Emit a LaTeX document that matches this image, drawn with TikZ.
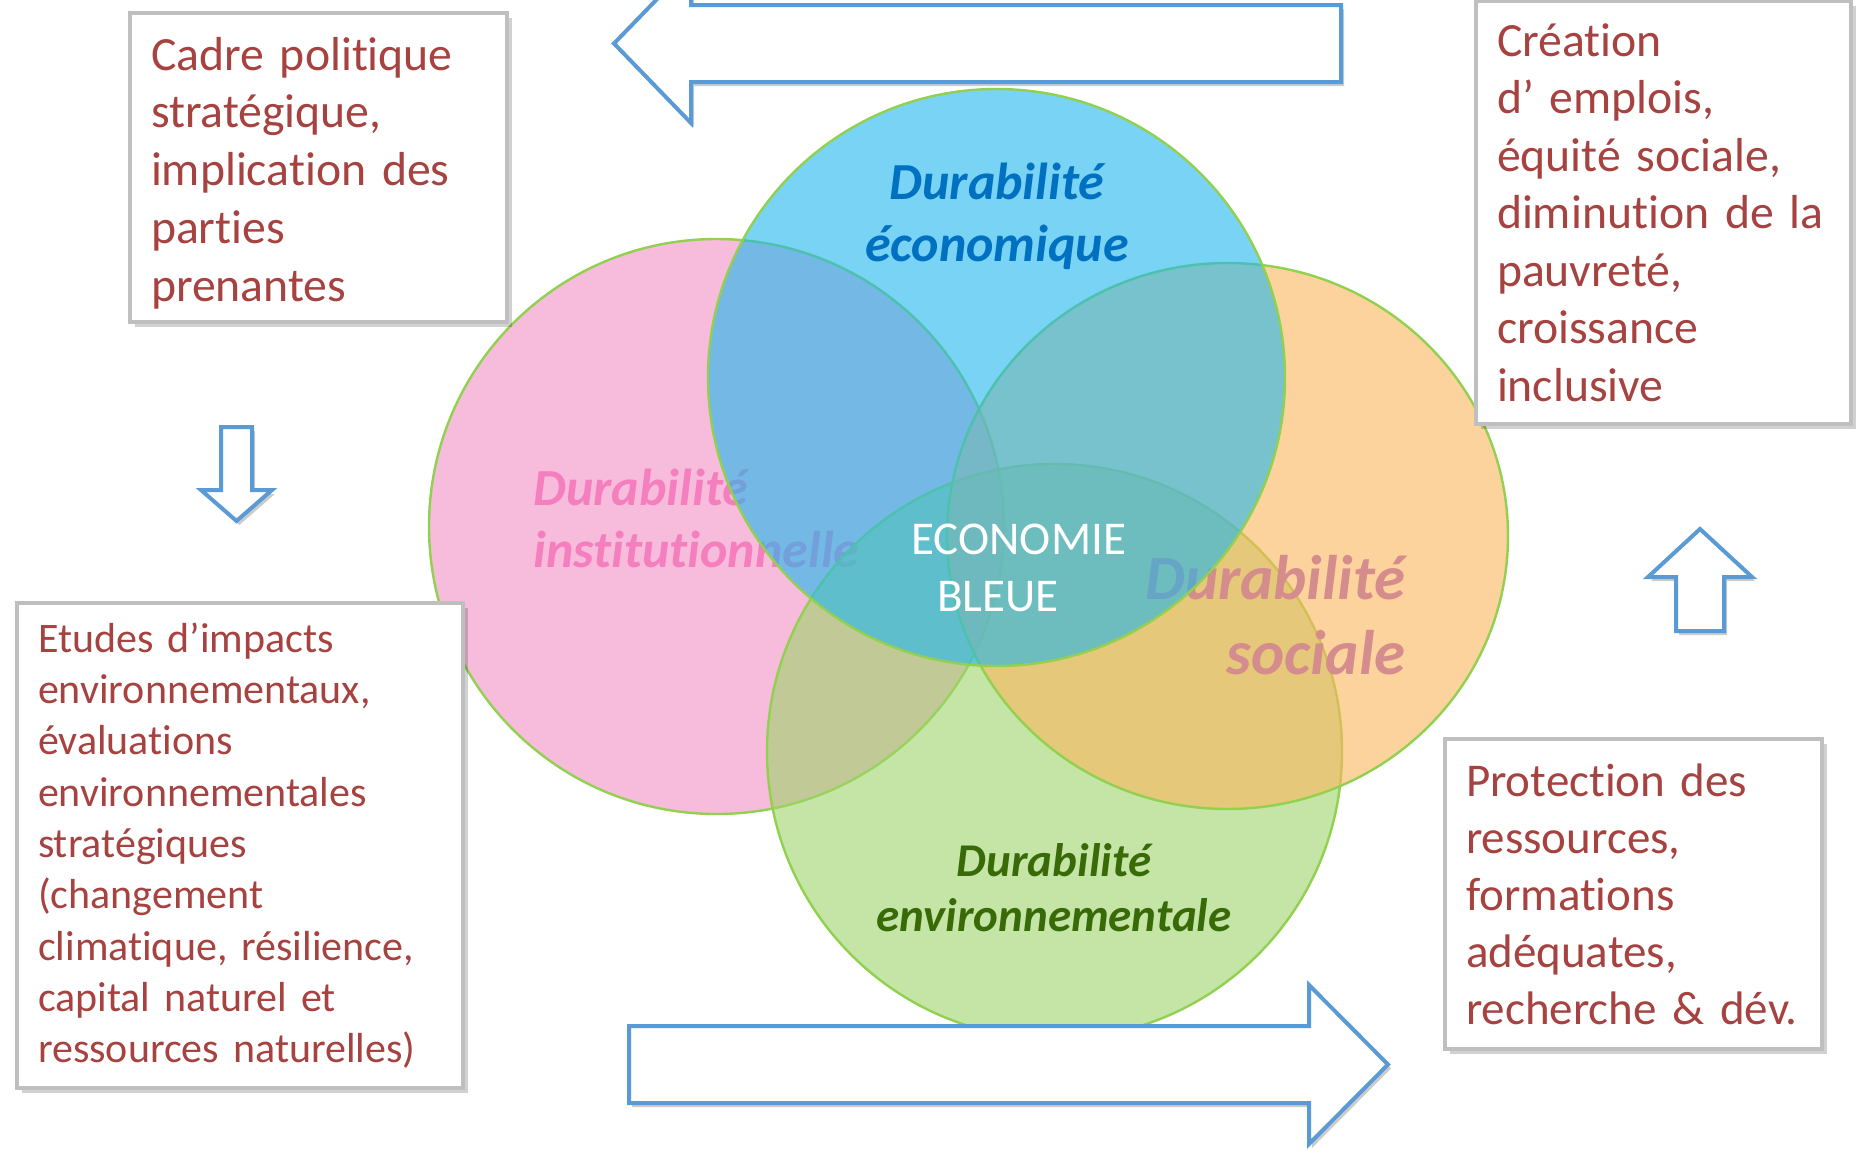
\documentclass[tikz,border=0pt]{standalone}
\usepackage{fontspec}
\setmainfont{Carlito}[Ligatures={NoCommon,NoContextual}]
\usepackage{xcolor}
\usepackage{tikz}
\usetikzlibrary{shadows}
\definecolor{boxred}{RGB}{166, 66, 64}
\definecolor{boxgray}{RGB}{191, 191, 191}
\definecolor{arrowblue}{RGB}{91, 155, 213}
\definecolor{ringgreen}{RGB}{146, 208, 80}
\definecolor{instpink}{RGB}{242, 142, 198}
\definecolor{ecoblue}{RGB}{30, 183, 238}
\definecolor{socorange}{RGB}{252, 182, 93}
\definecolor{envgreen}{RGB}{158, 212, 105}
\definecolor{ecotext}{RGB}{0, 112, 192}
\definecolor{insttext}{RGB}{244, 126, 190}
\definecolor{soctext}{RGB}{212, 140, 140}
\definecolor{envtext}{RGB}{56, 106, 8}

\begin{document}
\begin{tikzpicture}[
  x=0.5pt, y=-0.5pt,
  infobox/.style={rectangle, draw=boxgray, line width=2.2pt, fill=white, text=boxred,
                  align=left, inner xsep=10.5pt,
                  drop shadow={shadow xshift=2.5pt, shadow yshift=-2.5pt, fill=black, opacity=0.18}},
  ring/.style={draw=ringgreen, line width=1.2pt, fill opacity=0.6},
  pillar/.style n args={2}{inner sep=0pt, font=\fontsize{#1}{#2}\selectfont\bfseries\itshape},
  blockarrow/.style={draw=arrowblue, line width=2pt, fill=white, line join=miter,
                     drop shadow={shadow xshift=1.5pt, shadow yshift=-2pt, fill=black, opacity=0.2}}
]
  \useasboundingbox[fill=white] (0,0) rectangle (1857,1152);

  % the four pillars
  \draw[ring, fill=instpink] (716.5,526.5) circle[radius=143.75pt];
  \node[pillar={26}{31}, text=insttext, align=left, anchor=west] (instlabel) at (533,518.5) {Durabilité\\institutionnelle};
  \draw[ring, fill=envgreen] (1054.5,751.5) circle[radius=143.75pt];
  \draw[ring, fill=socorange] (1227.5,536) ellipse[x radius=140.25pt, y radius=136.5pt];
  \node[pillar={31.5}{37.5}, text=soctext, align=right, anchor=east] (soclabel) at (1406,615.5) {Durabilité\\sociale};
  \draw[ring, fill=ecoblue] (996.5,377.5) circle[radius=144.25pt];

  \node[pillar={26}{31}, text=ecotext, align=center] (ecolabel) at (997,216) {Durabilité\\économique};
  \node[pillar={23.5}{27.5}, text=envtext, align=center] (envlabel) at (1054,888) {Durabilité\\environnementale};
  \node[text=white, inner sep=0pt, align=left, anchor=west, font=\fontsize{23.5}{28.5}\selectfont] (coeur) at (911,567.5) {ECONOMIE\\\hspace*{13pt}BLEUE};

  % block arrows
  \draw[blockarrow] (1341,5) -- (691,5) -- (691,-36) -- (614,43.5) -- (691,123) -- (691,82) -- (1341,82) -- cycle;
  \draw[blockarrow] (629,1026) -- (1309,1026) -- (1309,985) -- (1388,1064.5) -- (1309,1144) -- (1309,1103) -- (629,1103) -- cycle;
  \draw[blockarrow] (221,427) -- (252,427) -- (252,490) -- (272,490) -- (236.5,521) -- (201,490) -- (221,490) -- cycle;
  \draw[blockarrow] (1676,631) -- (1676,577) -- (1648,577) -- (1700,529) -- (1752,577) -- (1724,577) -- (1724,631) -- cycle;

  % text boxes
  \node[infobox, font=\fontsize{23.85}{28.9}\selectfont, minimum width=188.5pt, minimum height=154.5pt, text width=167.5pt]
    (cadre) at (318.5,167.5) {\rule{0pt}{22pt}Cadre politique\\stratégique,\\implication des\\parties\\prenantes};
  \node[infobox, font=\fontsize{23.85}{28.75}\selectfont, minimum width=187.5pt, minimum height=211.5pt, text width=166.5pt]
    (emplois) at (1663.5,212.5) {Création\\d’ emplois,\\équité sociale,\\diminution de la\\pauvreté,\\croissance\\inclusive};
  \node[infobox, font=\fontsize{21}{25.65}\selectfont, minimum width=223pt, minimum height=242.5pt, text width=202pt]
    (etudes) at (240,845.5) {Etudes d’impacts\\environnementaux,\\évaluations\\environnementales\\stratégiques\\(changement\\climatique, résilience,\\capital naturel et\\ressources naturelles)};
  \node[infobox, font=\fontsize{23.5}{28.5}\selectfont, minimum width=188.5pt, minimum height=155pt, text width=167.5pt]
    (protection) at (1633.5,894) {Protection des\\ressources,\\formations\\adéquates,\\recherche \& dév.};
\end{tikzpicture}
\end{document}
